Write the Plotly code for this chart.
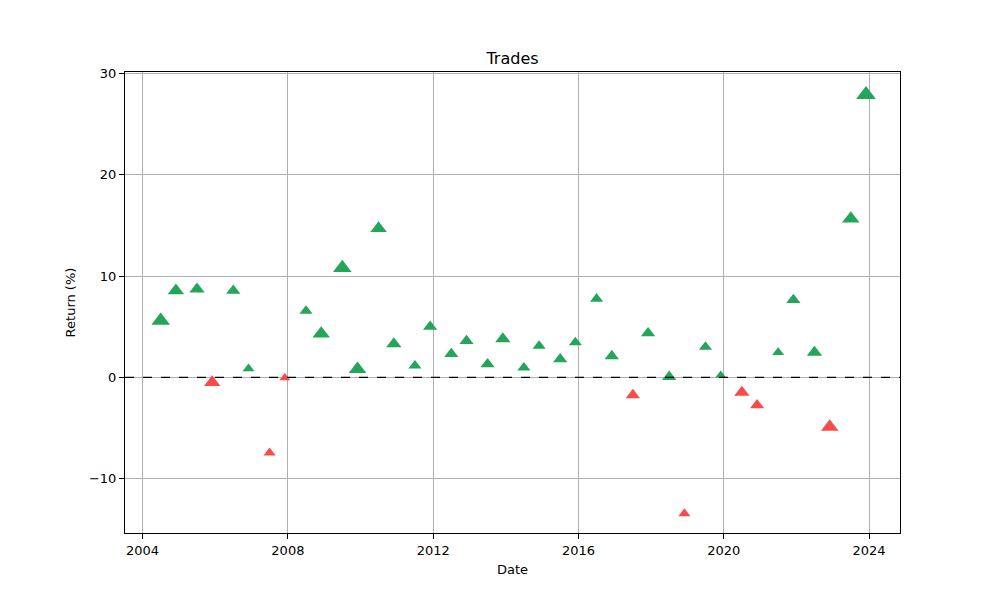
import plotly.graph_objects as go

# Trade dates (mid-year and end-of-year pairs)
dates = [
    "2004-07-01", "2004-12-01", "2005-07-01", "2005-12-01", "2006-07-01", "2006-12-01",
    "2007-07-01", "2007-12-01", "2008-07-01", "2008-12-01", "2009-07-01", "2009-12-01",
    "2010-07-01", "2010-12-01", "2011-07-01", "2011-12-01", "2012-07-01", "2012-12-01",
    "2013-07-01", "2013-12-01", "2014-07-01", "2014-12-01", "2015-07-01", "2015-12-01",
    "2016-07-01", "2016-12-01", "2017-07-01", "2017-12-01", "2018-07-01", "2018-12-01",
    "2019-07-01", "2019-12-01", "2020-07-01", "2020-12-01", "2021-07-01", "2021-12-01",
    "2022-07-01", "2022-12-01", "2023-07-01", "2023-12-01",
]
# Return (%) per trade
returns = [
    5.6, 8.55, 8.7, -0.5, 8.55, 0.85,
    -7.45, -0.05, 6.55, 4.3, 10.8, 0.8,
    14.7, 3.3, 1.15, 5.0, 2.3, 3.6,
    1.3, 3.8, 0.95, 3.1, 1.8, 3.45,
    7.75, 2.1, -1.75, 4.35, 0.05, -13.45,
    3.0, 0.2, -1.5, -2.75, 2.45, 7.65,
    2.45, -4.9, 15.65, 27.9,
]
# Marker weight per trade (drawn size)
weights = [
    17, 15, 14, 15, 13, 11,
    11, 10, 12, 16, 17, 16,
    15, 14, 12, 13, 13, 13,
    13, 14, 12, 12, 13, 12,
    12, 13, 13, 13, 13, 11,
    12, 10, 14, 13, 11, 13,
    14, 16, 16, 18,
]

GREEN = "#23a55a"
RED = "#fa4b4b"

colors = [GREEN if r >= 0 else RED for r in returns]
sizes = [w / 1.05 for w in weights]

fig = go.Figure()
fig.add_trace(go.Scatter(
    x=dates, y=returns, mode="markers",
    marker=dict(symbol="triangle-up", size=sizes, color=colors, opacity=1, line=dict(width=0)),
    showlegend=False,
))

fig.add_shape(type="line", xref="paper", yref="y", x0=0, x1=1, y0=0, y1=0,
              line=dict(color="black", width=1.3, dash="dash"), layer="above")

font_family = "DejaVu Sans"
fig.update_layout(
    width=1000, height=600,
    margin=dict(l=125, r=100, t=72, b=67),
    paper_bgcolor="white", plot_bgcolor="white",
    font=dict(family=font_family, size=13, color="black"),
    title=dict(text="Trades", x=0.5125, xanchor="center", y=0.903, yanchor="middle",
               font=dict(size=16, family=font_family, color="black")),
    xaxis=dict(
        range=["2003-07-08", "2024-11-07"],
        tickvals=["2004-01-01", "2008-01-01", "2012-01-01", "2016-01-01", "2020-01-01", "2024-01-01"],
        ticktext=["2004", "2008", "2012", "2016", "2020", "2024"],
        showgrid=True, gridcolor="#b0b0b0", gridwidth=1,
        showline=True, linecolor="black", linewidth=1, mirror=True,
        ticks="outside", ticklen=5, tickcolor="black", tickwidth=1,
        tickfont=dict(size=13), zeroline=False,
        title=dict(text="Date", font=dict(size=13), standoff=8),
    ),
    yaxis=dict(
        range=[-15.37, 30.14],
        tickvals=[-10, 0, 10, 20, 30],
        showgrid=True, gridcolor="#b0b0b0", gridwidth=1,
        showline=True, linecolor="black", linewidth=1, mirror=True,
        ticks="outside", ticklen=5, tickcolor="black", tickwidth=1,
        tickfont=dict(size=13), zeroline=False,
        title=dict(text="Return (%)", font=dict(size=13), standoff=10),
    ),
)

fig.write_html("out.html")
